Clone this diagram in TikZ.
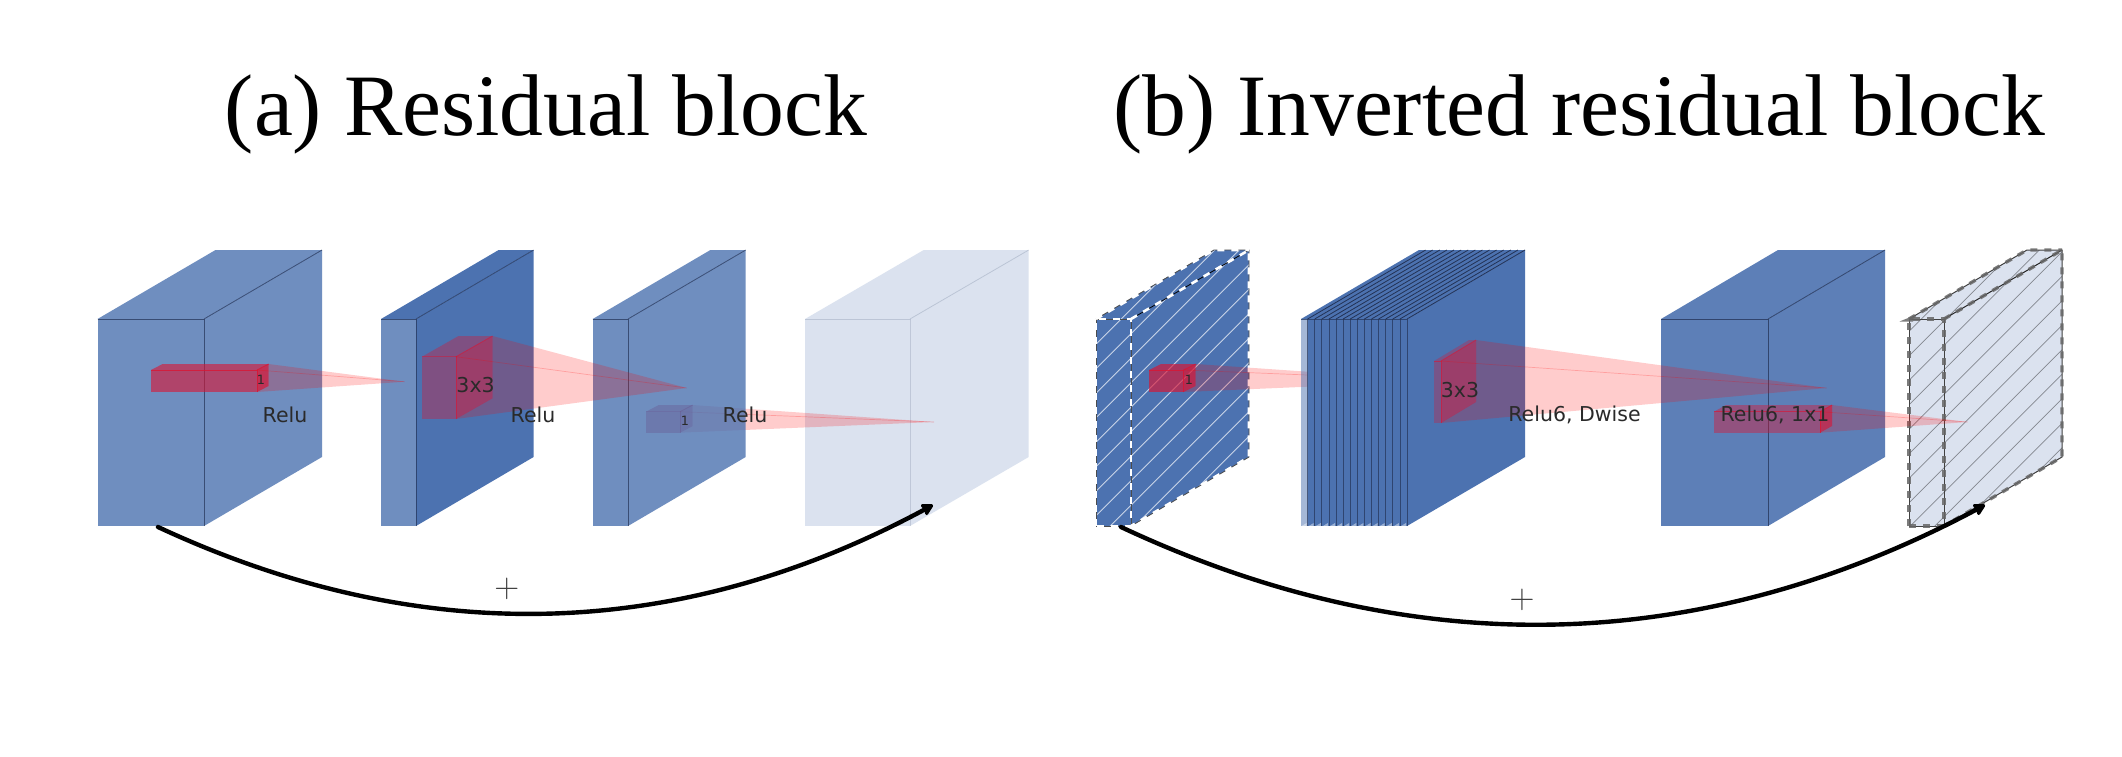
\documentclass[tikz,border=0pt]{standalone}
\usepackage{fontspec}
\setmainfont{Liberation Serif}
\newfontfamily\dvfont{DejaVu Sans}
\usetikzlibrary{arrows.meta}
\definecolor{sblue}{HTML}{4C72B0}
\definecolor{crim}{RGB}{220,20,50}
\definecolor{edgeblue}{RGB}{35,50,85}
\definecolor{labelgray}{RGB}{42,42,42}
\tikzset{
  titletext/.style={anchor=base,inner sep=0pt,font=\fontsize{43.8}{50}\selectfont},
  lbl/.style={inner sep=0pt,text=labelgray,font=\dvfont\fontsize{10.25}{12}\selectfont},
  tiny lbl/.style={inner sep=0pt,text=labelgray,font=\dvfont\fontsize{6.4}{8}\selectfont},
  plus/.style={inner sep=0pt,text=black!75,font=\fontsize{16.5}{20}\selectfont},
  cone/.style={fill=red,fill opacity=.2,draw=none},
  ray/.style={draw=red,draw opacity=.22,line width=.35pt},
  skip/.style={draw=black,line width=2.2pt,line cap=round,-{Stealth[length=6.5pt,width=7pt,inset=.6pt,round]}},
  inner/.style={draw=edgeblue,draw opacity=.7,line width=.4pt},
  hatchw/.style={draw=white,draw opacity=.7,line width=.4pt},
  hatchg/.style={draw=black,draw opacity=.4,line width=.4pt},
  dashw/.style={draw=white,line width=1.3pt,dash pattern=on 3.5pt off 3.5pt},
  dashg/.style={draw=black!60,draw opacity=.85,line width=1.7pt,dash pattern=on 3.5pt off 3.5pt},
  redline/.style={draw=crim,draw opacity=#1,line width=.4pt},
}
\newcommand{\slab}[7]{%
  \fill[#7,fill opacity=#4] (#1,319) rectangle (#2,526);
  \fill[#7,fill opacity=#5] (#2,319) -- (#3,250) -- (#3,457) -- (#2,526) -- cycle;
  \fill[#7,fill opacity=#6] (#1,319) -- (#2,319) -- (#3,250) -- ({#1+#3-#2},250) -- cycle;
}
\newcommand{\slabedge}[4]{%
  \draw[inner,draw opacity=#4] (#1,319) -- (#2,319) -- (#2,526);
  \draw[inner,draw opacity=#4] (#2,319) -- (#3,250);
}
% l, r, back r, top front, bottom front, back top, front/top opacity, side opacity
\newcommand{\redbox}[8]{%
  \fill[crim,fill opacity=#7] (#1,#4) rectangle (#2,#5);
  \fill[crim,fill opacity=#7] (#1,#4) -- (#2,#4) -- (#3,#6) -- ({#1+#3-#2},#6) -- cycle;
  \fill[crim,fill opacity=#8] (#2,#4) -- (#3,#6) -- (#3,{#5+#6-#4}) -- (#2,#5) -- cycle;
  \draw[redline=#8] (#1,#4) -- (#2,#4) -- (#2,#5);
  \draw[redline=#8] (#2,#4) -- (#3,#6);
}
\begin{document}
\begin{tikzpicture}[x=.5pt,y=-.5pt]
\useasboundingbox (0,0) rectangle (2122,756);
\fill[white] (0,0) rectangle (2122,756);

\node[titletext] (titlea) at (546,135) {(a) Residual block};
\node[titletext] (titleb) at (1579,135) {(b) Inverted residual block};

% ---------- (a) ----------
\slab{97.5}{204}{322}{.8}{.8}{.8}{sblue}
\slabedge{97.5}{204}{322}{.7}
\slab{381}{416}{533.6}{.8}{1}{1}{sblue}
\slabedge{381}{416}{533.6}{.7}
\slab{805}{910}{1028.7}{.2}{.2}{.2}{sblue}
\slabedge{805}{910}{1028.7}{.15}

\redbox{646}{680}{692.7}{411.7}{432.7}{405}{.45}{.5}
\fill[cone] (692.7,405) -- (934,422) -- (680,432.7) -- (692.7,426) -- cycle;
\draw[ray] (680,411.7) -- (934,422);

\slab{592.7}{628}{745.7}{.8}{.8}{.8}{sblue}
\slabedge{592.7}{628}{745.7}{.7}

\redbox{151}{257}{268.6}{370}{392}{364}{.6}{.75}
\fill[cone] (268.6,364) -- (404.6,381.7) -- (257,392) -- (268.6,386) -- cycle;
\draw[ray] (257,370) -- (404.6,381.7);

\redbox{422}{456}{492.5}{356.7}{419}{336}{.36}{.55}
\fill[cone] (492.5,336) -- (686.7,388) -- (456,419) -- (492.5,398.3) -- cycle;
\draw[ray] (456,356.7) -- (686.7,388);

% ---------- (b) ----------
\slab{1096}{1131}{1249}{1}{1}{1}{sblue}
\begin{scope}
  \clip (1096,319) -- ({1096+118},250) -- (1249,250) -- (1249,457) -- (1131,526) -- (1096,526) -- cycle;
  \foreach \k in {-7,...,11}{
    \pgfmathsetmacro{\cc}{1513.7+24.5*\k}
    \draw[hatchw] ({\cc-560},560) -- ({\cc-200},200);
  }
\end{scope}
\draw[black!70,line width=.4pt] (1096,319) rectangle (1131,526);
\draw[black!70,line width=.4pt] (1096,319) -- (1214,250) -- (1249,250) -- (1249,457) -- (1131,526);
\draw[black,line width=.4pt] (1131,319) -- (1249,250);
\draw[dashw] (1096,526) -- (1096,319) -- (1131,319) -- (1131,526) -- cycle;
\draw[dashw] (1131,319) -- (1249,250) -- (1249,457) -- (1131,526);
\draw[dashw] (1096,319) -- (1214,250) -- (1249,250);

\redbox{1149}{1183.6}{1195.7}{370}{392}{364}{.65}{.75}
\fill[cone] (1195.7,364) -- (1307.6,371.7) -- (1307.6,386.7) -- (1183.6,392) -- (1195.7,386) -- cycle;
\draw[ray] (1183.6,370) -- (1307.6,375);

\fill[sblue,fill opacity=.5] (1301,319) rectangle (1307.6,526);
\fill[sblue] (1307.6,319) rectangle (1407,526);
\fill[sblue] (1407,319) -- (1525,250) -- (1525,457) -- (1407,526) -- cycle;
\fill[sblue] (1301,319) -- (1407,319) -- (1525,250) -- (1419,250) -- cycle;
\foreach \i in {0,...,14}{
  \pgfmathsetmacro{\xx}{1307.6+7.1*\i}
  \draw[inner] (\xx,319) -- (\xx,526);
  \draw[draw=edgeblue,line width=.4pt] (\xx,319) -- ({\xx+118},250);
}
\draw[inner] (1301,319) -- (1407,319);
\foreach \i in {0,...,14}{
  \pgfmathsetmacro{\xx}{1307.6+7.1*\i}
  \fill[white,fill opacity=.45] ({\xx-6},526) -- ({\xx-1},526) -- ({\xx-1},523) -- cycle;
}

\slab{1661}{1768}{1885}{.9}{.9}{.9}{sblue}
\slabedge{1661}{1768}{1885}{.75}

\redbox{1434}{1441}{1476}{361}{423}{340}{.3}{.55}
\fill[cone] (1476,340) -- (1826.7,388) -- (1441,423) -- (1476,402) -- cycle;
\draw[ray] (1441,361) -- (1826.7,388);

\slab{1909}{1944}{2062}{.2}{.2}{.2}{sblue}
\begin{scope}
  \clip (1909,319) -- ({1909+118},250) -- (2062,250) -- (2062,457) -- (1944,526) -- (1909,526) -- cycle;
  \foreach \k in {-8,...,11}{
    \pgfmathsetmacro{\cc}{2338.4+24.5*\k}
    \draw[hatchg] ({\cc-560},560) -- ({\cc-200},200);
  }
\end{scope}
\draw[black!75,line width=.5pt] (1909,319) rectangle (1944,526);
\draw[black!75,line width=.5pt] (1909,319) -- (2027,250) -- (2062,250) -- (2062,457) -- (1944,526);
\draw[black!85,line width=.5pt] (1944,319) -- (2062,250);
\draw[dashg] (1909,526) -- (1909,319);
\draw[dashg] (1909,526) -- (1944,526) -- (1944,319) -- (1909,319);
\draw[dashg] (1944,319) -- (2062,250) -- (2062,457) -- (1944,526);
\draw[dashg] (1909,319) -- (2027,250) -- (2062,250);
\fill[black!60,fill opacity=.85] (1899.5,321.5) -- (1913,316) -- (1913,321.5) -- cycle;

\redbox{1714}{1820}{1832}{411.7}{432.7}{405}{.42}{.7}
\fill[cone] (1832,405) -- (1967.7,422) -- (1820,432.7) -- (1832,426) -- cycle;
\draw[ray] (1820,411.7) -- (1967.7,422);

% labels
\node[tiny lbl] (one1) at (261,379.5) {1};
\node[lbl] (relu1) at (285,415) {Relu};
\node[lbl] (dim1) at (475.6,385) {3x3};
\node[lbl] (relu2) at (533,415) {Relu};
\node[tiny lbl] (one2) at (685,420.5) {1};
\node[lbl] (relu3) at (745,415) {Relu};
\node[tiny lbl] (one3) at (1189,379.5) {1};
\node[lbl] (dim2) at (1460,390) {3x3};
\node[lbl] (relu4) at (1574.5,415) {Relu6, Dwise};
\node[lbl] (relu5) at (1775,415) {Relu6, 1x1};
\node[plus] (plusa) at (506.8,589) {$+$};
\node[plus] (plusb) at (1522,600) {$+$};

% skip connections
\coordinate (sa) at (158,527);
\coordinate (sac1) at (420,649);
\coordinate (sac2) at (678,642);
\coordinate (ea) at (933,505);
\coordinate (sb) at (1121,527);
\coordinate (sbc1) at (1412.7,663.7);
\coordinate (sbc2) at (1700.7,656.3);
\coordinate (eb) at (1985,505);
\draw[skip] (sa) .. controls (sac1) and (sac2) .. (ea);
\draw[skip] (sb) .. controls (sbc1) and (sbc2) .. (eb);
\end{tikzpicture}
\end{document}
